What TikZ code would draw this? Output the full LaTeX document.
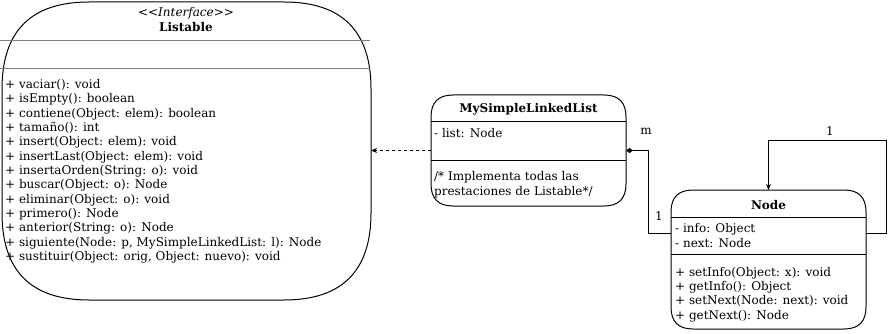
\documentclass[tikz,border=0pt]{standalone}
\usepackage{fontspec}
\setmainfont{DejaVu Serif}
\usetikzlibrary{arrows.meta}

% box with soft corners: x, y, width, height, radius
\newcommand{\softbox}[5]{%
    \draw[line width=1pt] ({#1+#5},#2) -- ({#1+#3-#5},#2)
        .. controls ({#1+#3-#5/3},#2) and ({#1+#3},{#2+#5/3}) .. ({#1+#3},{#2+#5})
        -- ({#1+#3},{#2+#4-#5})
        .. controls ({#1+#3},{#2+#4-#5/3}) and ({#1+#3-#5/3},{#2+#4}) .. ({#1+#3-#5},{#2+#4})
        -- ({#1+#5},{#2+#4})
        .. controls ({#1+#5/3},{#2+#4}) and (#1,{#2+#4-#5/3}) .. (#1,{#2+#4-#5})
        -- (#1,{#2+#5})
        .. controls (#1,{#2+#5/3}) and ({#1+#5/3},#2) .. cycle;}

\tikzset{
    txt/.style={inner sep=0pt, font=\fontsize{12}{14.33}\selectfont},
    memb/.style={txt, anchor=base west, align=left},
    classbox/.style={anchor=north west, inner sep=0pt, outer sep=0pt},
    sep/.style={line width=1pt},
    assoc/.style={line width=1pt},
}

\begin{document}
\begin{tikzpicture}[x=1pt,y=-1pt]
    \useasboundingbox (0,0) rectangle (894,334);

    % interface Listable
    \node[classbox, minimum width=369pt, minimum height=298pt] (listable) at (2,2) {};
    \softbox{2}{2}{369}{298}{87}
    \node[txt] (stereo) at (186,13) {\itshape <\kern0pt<Interface>\kern0pt>};
    \node[txt] (lname) at (186,27) {\bfseries Listable};
    \draw[gray, line width=0.8pt] (0,40) -- (370,40);
    \draw[gray, line width=0.8pt] (0,68) -- (370,68);
    \node[memb] (lops) at (5,260.5) {+ vaciar(): void\\
        + isEmpty(): boolean\\
        + contiene(Object: elem): boolean\\
        + tamaño(): int\\
        + insert(Object: elem): void\\
        + insertLast(Object: elem): void\\
        + insertaOrden(String: o): void\\
        + buscar(Object: o): Node\\
        + eliminar(Object: o): void\\
        + primero(): Node\\
        + anterior(String: o): Node\\
        + siguiente(Node: p, MySimpleLinkedList: l): Node\\
        + sustituir(Object: orig, Object: nuevo): void};

    % class MySimpleLinkedList
    \node[classbox, minimum width=195pt, minimum height=111pt] (linkedlist) at (431,95) {};
    \softbox{431}{95}{195}{111}{22}
    \node[txt] (llname) at (528.5,109) {\bfseries MySimpleLinkedList};
    \draw[sep] (431,122) -- (626,122);
    \draw[sep] (431,160) -- (626,160);
    \node[memb] (llattr) at (434,138) {- list: Node};
    \node[memb] (llops) at (434,195.3) {/* Implementa todas las\\prestaciones de Listable*/};

    % class Node
    \node[classbox, minimum width=195pt, minimum height=139pt] (nodecls) at (671,190) {};
    \softbox{671}{190}{195}{139}{22}
    \node[txt] (nname) at (768.5,205) {\bfseries Node};
    \draw[sep] (671,217) -- (866,217);
    \draw[sep] (671,254) -- (866,254);
    \node[memb] (nattr) at (675,247.3) {- info: Object\\- next: Node};
    \node[memb] (nops) at (675,319) {+ setInfo(Object: x): void\\
        + getInfo(): Object\\
        + setNext(Node: next): void\\
        + getNext(): Node};

    \coordinate (nodein) at (671,233);
    \coordinate (nodeout) at (866,233);

    % relations
    \draw[assoc, dashed, -{Stealth[length=6pt,width=5pt]}] (linkedlist.west) -- (linkedlist.west -| listable.east);
    \draw[assoc, {Diamond[length=7pt,width=5pt]}-] (linkedlist.east) -- ++(22,0) |- (nodein);
    \draw[assoc, -{Stealth[length=6pt,width=5pt]}] (nodeout) -- ++(20,0) |- ([yshift=49pt]nodecls.north) -- (nodecls.north);

    \node[txt] (mult1) at (646,131) {m};
    \node[txt] (mult2) at (659,216) {1};
    \node[txt] (mult3) at (830,131) {1};
\end{tikzpicture}
\end{document}
